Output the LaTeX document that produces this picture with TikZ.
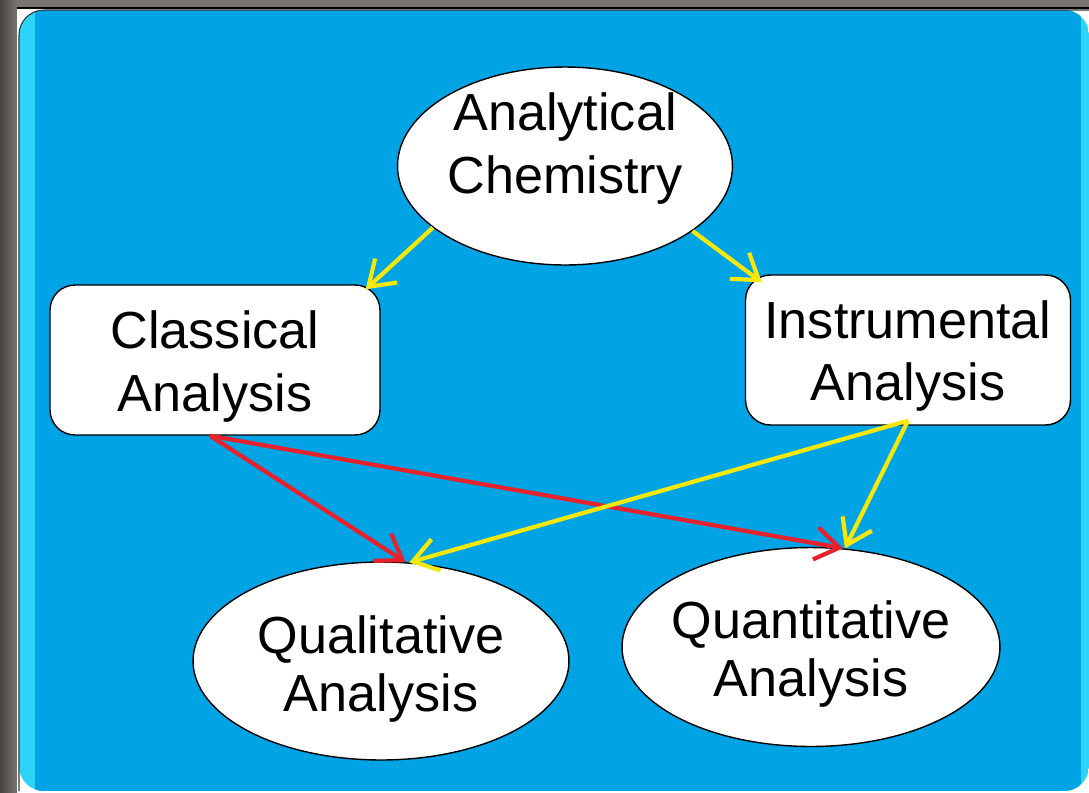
\documentclass[tikz,border=0pt]{standalone}
\usepackage{fontspec}
\setmainfont{Liberation Sans}
\usetikzlibrary{shapes.geometric,arrows.meta}

\definecolor{framegray}{RGB}{122,115,110}
\definecolor{panelblue}{RGB}{0,163,228}
\definecolor{edgecyan}{RGB}{45,212,250}
\definecolor{linkyellow}{RGB}{245,232,10}
\definecolor{linkred}{RGB}{232,34,44}

\tikzset{
  bubble/.style={draw=black, fill=white, ellipse, line width=0.8pt, inner sep=-1cm,
    align=center, font=\fontsize{29.7}{33}\selectfont},
  card/.style={draw=black, fill=white, rounded corners=0.5cm, line width=0.8pt, inner sep=0pt,
    align=center, font=\fontsize{29.7}{35}\selectfont},
  link/.style={line width=2.4pt, -{Straight Barb[length=0.48cm,width=0.65cm,line width=2.4pt]}},
}

\begin{document}
\begin{tikzpicture}[x=0.02cm,y=-0.02cm]
  \useasboundingbox (0,0) rectangle (1089,792);
  \clip (0,0) rectangle (1089,792);
  % frame and panel
  \fill[framegray] (0,0) rectangle (1089,792);
  \fill[left color=framegray!60!black, right color=framegray] (0,0) rectangle (17,792);
  \fill[white] (17,7) rectangle (1089,792);
  \draw[black, line width=1.2pt] (17,8) -- (1089,8);
  \begin{scope}
    \clip[rounded corners=0.5cm] (19,10) rectangle (1089,791);
    \fill[edgecyan] (19,10) rectangle (1089,791);
    \fill[panelblue] (35,10) rectangle (1081,791);
  \end{scope}
  \draw[black!80, line width=0.6pt, rounded corners=0.5cm] (19,791) -- (19,10) -- (1089,10);

  % nodes
  \node[bubble, minimum width=6.7cm, minimum height=3.96cm, text depth=26pt,
    font=\fontsize{29.7}{35.5}\selectfont] (chem) at (565,166) {Analytical\\Chemistry};
  \node[card, minimum width=6.6cm, minimum height=3cm, text height=64.5pt,
    font=\fontsize{29.7}{36}\selectfont] (classic) at (215,360) {Classical\\Analysis};
  \node[card, minimum width=6.5cm, minimum height=3cm, text height=63.5pt] (instr) at (908,350) {Instrumental\\Analysis};
  \node[bubble, minimum width=7.52cm, minimum height=3.96cm, text height=63.5pt] (qual) at (381,661) {Qualitative\\Analysis};
  \node[bubble, minimum width=7.56cm, minimum height=3.98cm, text height=63pt] (quant) at (811,647) {Quantitative\\Analysis};

  % links
  \draw[link, linkyellow] (chem.205) -- ([xshift=-0.3cm,yshift=-0.1cm]classic.north east);
  \draw[link, linkyellow] (chem.-27) -- ([xshift=0.34cm,yshift=-0.16cm]instr.north west);
  \draw[link, linkred] ([xshift=-0.1cm]classic.south) -- (qual.76);
  \draw[link, linkred] ([xshift=-0.1cm]classic.south) -- (quant.72);
  \draw[link, linkyellow] ([yshift=0.1cm]instr.south) -- (qual.74);
  \draw[link, linkyellow] ([yshift=0.1cm]instr.south) -- (quant.71);
\end{tikzpicture}
\end{document}
